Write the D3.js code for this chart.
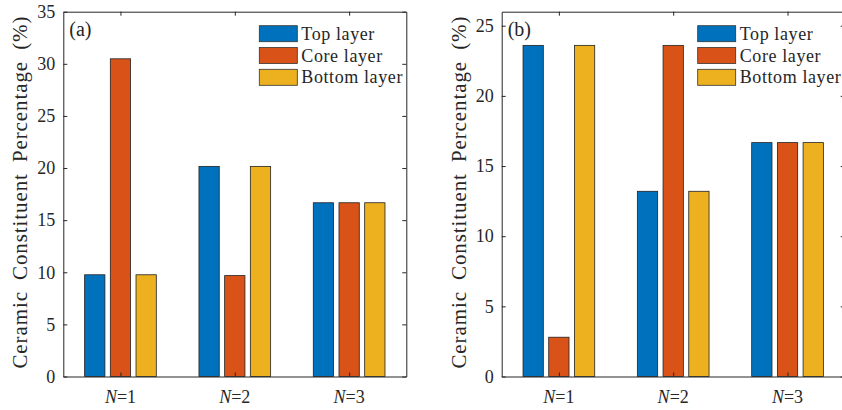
<!DOCTYPE html>
<html>
<head>
<meta charset="utf-8">
<script src="https://cdn.jsdelivr.net/npm/d3@7"></script>
<style>
  body { margin: 0; background: #fff; }
</style>
</head>
<body>
<div id="chart"></div>
<script>
// data
var groups = ["1", "2", "3"];
var layers = ["Top layer", "Core layer", "Bottom layer"];
var colors = ["#0072BD", "#D95319", "#EDB120"];

var valuesA = [
  [9.76, 30.48, 9.76],
  [20.16, 9.68, 20.16],
  [16.67, 16.67, 16.67]
];
var valuesB = [
  [23.6, 2.8, 23.6],
  [13.2, 23.6, 13.2],
  [16.67, 16.67, 16.67]
];
var ticksA = [0, 5, 10, 15, 20, 25, 30, 35];
var ticksB = [0, 5, 10, 15, 20, 25];

var width = 842, height = 410;
var serif = '"Liberation Serif", "Times New Roman", Times, serif';

var svg = d3.select("#chart").append("svg")
  .attr("width", width)
  .attr("height", height)
  .attr("font-family", serif);

function panel(left, values, ymax, ticks, tag) {
  var top = 11.7, bottom = 376.5, w = 343;
  var g = svg.append("g");

  var x = d3.scaleLinear().domain([0.5, 3.5]).range([left, left + w]);
  var y = d3.scaleLinear().domain([0, ymax]).range([bottom, top]);
  var inner = d3.scaleBand().domain(d3.range(3)).range([-0.3135, 0.3135]).paddingInner(0.21);

  // bars
  groups.forEach(function(gname, gi) {
    g.selectAll(".bar" + gi)
      .data(values[gi])
      .enter()
      .append("rect")
      .attr("x", function(d, i) { return x(gi + 1 + inner(i)); })
      .attr("width", x(1 + inner.bandwidth()) - x(1))
      .attr("y", function(d) { return y(d); })
      .attr("height", function(d) { return y(0) - y(d); })
      .attr("fill", function(d, i) { return colors[i]; })
      .attr("stroke", "#222")
      .attr("stroke-width", 0.8);
  });

  // axes (ticks inside, box on)
  var yl = g.append("g").attr("transform", "translate(" + left + ",0)")
    .call(d3.axisLeft(y).tickValues(ticks).tickSizeInner(-4).tickSizeOuter(0).tickPadding(8));
  var yr = g.append("g").attr("transform", "translate(" + (left + w) + ",0)")
    .call(d3.axisRight(y).tickValues(ticks).tickSizeInner(-4).tickSizeOuter(0).tickFormat(""));
  var xb = g.append("g").attr("transform", "translate(0," + bottom + ")")
    .call(d3.axisBottom(x).tickValues([1, 2, 3]).tickSizeInner(-4).tickSizeOuter(0).tickFormat(""));
  var xt = g.append("g").attr("transform", "translate(0," + top + ")")
    .call(d3.axisTop(x).tickValues([1, 2, 3]).tickSizeInner(-4).tickSizeOuter(0).tickFormat(""));

  [yl, yr, xb, xt].forEach(function(a) {
    a.attr("font-family", serif);
    a.select(".domain").attr("stroke", "#262626").attr("stroke-width", 1);
    a.selectAll(".tick line").attr("stroke", "#262626");
  });
  yl.selectAll(".tick text")
    .attr("font-size", 18)
    .attr("fill", "#262626");

  // x tick labels with italic N
  groups.forEach(function(gname, gi) {
    var t = g.append("text")
      .attr("x", x(gi + 1))
      .attr("y", bottom + 26)
      .attr("text-anchor", "middle")
      .attr("fill", "#262626")
      .attr("font-size", 18);
    t.append("tspan").attr("font-style", "italic").text("N");
    t.append("tspan").text("=" + gname);
  });

  // y label
  g.append("text")
    .attr("transform", "translate(" + (left - 36) + "," + ((top + bottom) / 2 - 2) + ") rotate(-90)")
    .attr("text-anchor", "middle")
    .attr("fill", "#262626")
    .attr("font-size", 21)
    .attr("letter-spacing", 0.9)
    .attr("word-spacing", 5)
    .text("Ceramic Constituent Percentage (%)");

  // panel tag
  g.append("text")
    .attr("x", left + 6)
    .attr("y", top + 24)
    .attr("fill", "#262626")
    .attr("font-size", 20)
    .text(tag);

  // legend
  var lg = g.append("g").attr("transform", "translate(" + (left + 196) + "," + (top + 14) + ")");
  var item = lg.selectAll(".legend")
    .data(layers)
    .enter()
    .append("g")
    .attr("transform", function(d, i) { return "translate(0," + (i * 21.8) + ")"; });
  item.append("rect")
    .attr("width", 38)
    .attr("height", 16)
    .attr("fill", function(d, i) { return colors[i]; })
    .attr("stroke", "#333")
    .attr("stroke-width", 0.8);
  item.append("text")
    .attr("x", 42)
    .attr("y", 14)
    .attr("fill", "#262626")
    .attr("font-size", 18)
    .attr("letter-spacing", 0.6)
    .text(function(d) { return d; });
}

panel(63.3, valuesA, 35, ticksA, "(a)");
panel(501.7, valuesB, 26, ticksB, "(b)");
</script>
</body>
</html>
